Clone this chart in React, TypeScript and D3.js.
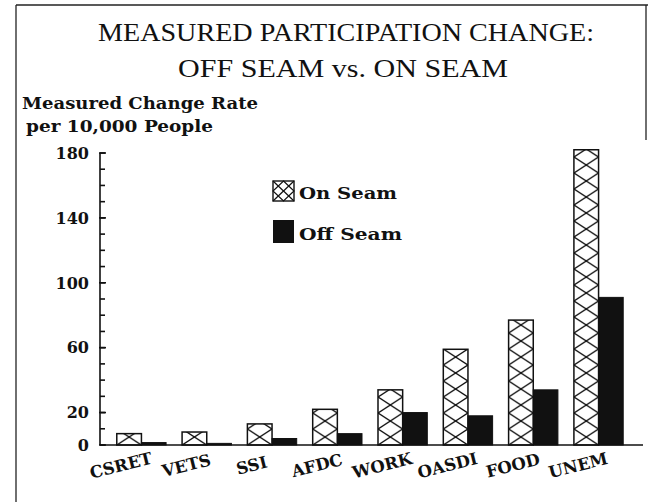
import React from "react";
import * as d3 from "d3";

const categories = ["CSRET", "VETS", "SSI", "AFDC", "WORK", "OASDI", "FOOD", "UNEM"];
const onSeam = [7, 8, 13, 22, 34, 59, 77, 182];
const offSeam = [1.5, 1, 4, 7, 20, 18, 34, 91];
const seriesNames = ["On Seam", "Off Seam"];
const tickLabels = [0, 20, 60, 100, 140, 180];
const titleLines = ["MEASURED PARTICIPATION CHANGE:", "OFF SEAM vs. ON SEAM"];
const yTitleLines = ["Measured Change Rate", "per 10,000 People"];

const W = 648;
const H = 502;

export default function App() {
  const y = d3.scaleLinear().domain([0, 180]).range([445, 153]);
  const x = d3
    .scaleBand<string>()
    .domain(categories)
    .range([100, 640])
    .paddingInner(0.245)
    .paddingOuter(0.257);
  const xs = d3.scaleBand<string>().domain(seriesNames).range([0, x.bandwidth()]);
  const minorTicks = d3.range(0, 181, 10);
  const cellH = 16;
  const labelFont = "'DejaVu Serif', serif";

  return (
    <svg
      width={W}
      height={H}
      style={{ position: "absolute", left: 0, top: 0, background: "#fff" }}
    >
      <defs>
        {categories.map((c, i) => {
          const bx = (x(c) as number) + (xs("On Seam") as number);
          const bw = xs.bandwidth();
          return (
            <pattern
              key={c}
              id={`hatch-${i}`}
              patternUnits="userSpaceOnUse"
              x={bx}
              y={y(0)}
              width={bw}
              height={cellH}
            >
              <rect width={bw} height={cellH} fill="#fff" />
              <line x1={0} y1={0} x2={bw} y2={cellH} stroke="#111" strokeWidth={1.4} />
              <line x1={bw} y1={0} x2={0} y2={cellH} stroke="#111" strokeWidth={1.4} />
            </pattern>
          );
        })}
      </defs>

      {/* frame */}
      <g stroke="#222" strokeWidth={1.3}>
        <line x1={16} y1={5} x2={648} y2={5} />
        <line x1={16} y1={5} x2={16} y2={502} />
        <line x1={646} y1={5} x2={646} y2={140} />
      </g>

      {/* title */}
      <g fontFamily="'Liberation Serif', serif" fill="#111" textAnchor="middle">
        <text x={346} y={41} fontSize={26} textLength={496} lengthAdjust="spacingAndGlyphs">
          {titleLines[0]}
        </text>
        <text x={343} y={77} fontSize={26} textLength={330} lengthAdjust="spacingAndGlyphs">
          {titleLines[1]}
        </text>
      </g>

      {/* y title */}
      <g fontFamily={labelFont} fontWeight="bold" fill="#111" fontSize={16}>
        <text x={22} y={109} textLength={236} lengthAdjust="spacingAndGlyphs">
          {yTitleLines[0]}
        </text>
        <text x={26} y={132} textLength={187} lengthAdjust="spacingAndGlyphs">
          {yTitleLines[1]}
        </text>
      </g>

      {/* bars */}
      {categories.map((c, i) => {
        const gx = x(c) as number;
        return (
          <g key={c}>
            <rect
              x={gx + (xs("On Seam") as number)}
              y={y(onSeam[i])}
              width={xs.bandwidth()}
              height={y(0) - y(onSeam[i])}
              fill={`url(#hatch-${i})`}
              stroke="#111"
              strokeWidth={1.5}
            />
            <rect
              x={gx + (xs("Off Seam") as number)}
              y={y(offSeam[i])}
              width={xs.bandwidth()}
              height={y(0) - y(offSeam[i])}
              fill="#111"
              stroke="#111"
              strokeWidth={1}
            />
          </g>
        );
      })}

      {/* axes */}
      <g stroke="#111" strokeWidth={1.6}>
        <line x1={100} y1={y(0)} x2={643} y2={y(0)} />
        <line x1={100} y1={y(0)} x2={100} y2={y(180)} />
        {minorTicks.map((t) => (
          <line key={t} x1={100} y1={y(t)} x2={105} y2={y(t)} />
        ))}
        {tickLabels.map((t) => (
          <line key={"m" + t} x1={99} y1={y(t)} x2={106} y2={y(t)} />
        ))}
      </g>
      <g fontFamily={labelFont} fontWeight="bold" fontSize={16} fill="#111" textAnchor="end">
        {tickLabels.map((t) => (
          <text key={t} x={89} y={y(t)} dy="0.36em">
            {t}
          </text>
        ))}
      </g>

      {/* category labels */}
      <g fontFamily={labelFont} fontWeight="bold" fontSize={16.5} fill="#111" textAnchor="middle">
        {categories.map((c) => {
          const cx = (x(c) as number) + x.bandwidth() / 2 - 19;
          const cy = y(0) + 26;
          return (
            <text key={c} x={cx} y={cy} transform={`rotate(-14 ${cx} ${cy})`}>
              {c}
            </text>
          );
        })}
      </g>

      {/* legend */}
      <g>
        <rect x={273} y={181} width={21} height={20} fill="#fff" stroke="#111" strokeWidth={1.4} />
        <g stroke="#111" strokeWidth={1.2} fill="none">
          <line x1={273} y1={181} x2={294} y2={201} />
          <line x1={294} y1={181} x2={273} y2={201} />
          <polygon points={`283.5,181 294,191 283.5,201 273,191`} />
        </g>
        <rect x={273} y={220} width={21} height={23} fill="#111" />
        <g fontFamily={labelFont} fontWeight="bold" fontSize={16.5} fill="#111">
          <text x={299} y={199} textLength={98} lengthAdjust="spacingAndGlyphs">
            {seriesNames[0]}
          </text>
          <text x={299} y={240} textLength={103} lengthAdjust="spacingAndGlyphs">
            {seriesNames[1]}
          </text>
        </g>
      </g>
    </svg>
  );
}
